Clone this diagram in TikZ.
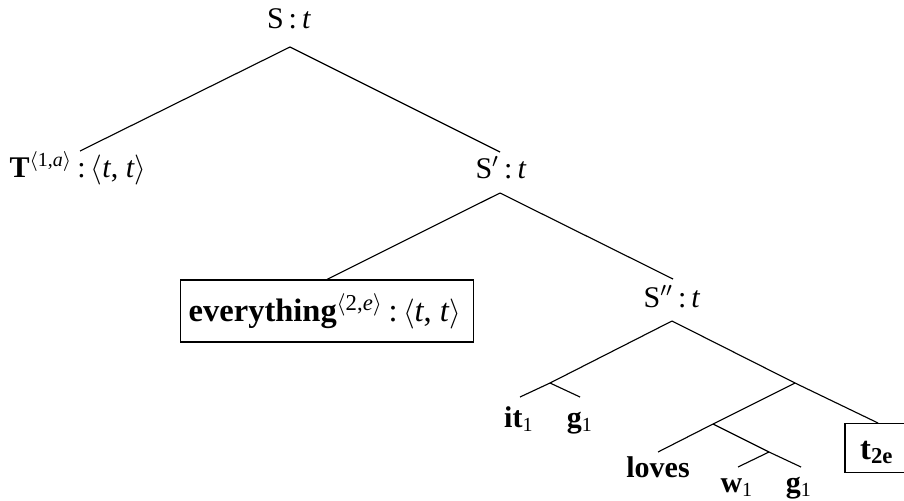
\documentclass[tikz,border=0pt]{standalone}
\usepackage{fontspec}
\setmainfont{Liberation Serif}
\newcommand{\ang}[1]{$\langle$#1$\rangle$}
\begin{document}
\begin{tikzpicture}[x=0.4pt,y=-0.4pt,
  edge/.style={line width=0.45pt},
  lab/.style={anchor=base, inner sep=0pt, font=\fontsize{12}{14}\selectfont},
  biglab/.style={anchor=base, inner sep=0pt, font=\fontsize{13}{15}\selectfont},
  boxed/.style={draw, line width=0.5pt, inner sep=0pt}]
\useasboundingbox (0,0) rectangle (904,500);

% junction / line-end points
\coordinate (S) at (290,47);
\coordinate (T) at (80,151);
\coordinate (Sp) at (500,152);
\coordinate (Spb) at (500,193);
\coordinate (Spp) at (673,279);
\coordinate (Sppb) at (672,321);
\coordinate (J1) at (550,383);
\coordinate (it) at (520,397);
\coordinate (ga) at (580,397);
\coordinate (J2) at (795,383);
\coordinate (J3) at (713,424);
\coordinate (lv) at (658,452);
\coordinate (J4) at (769,452);
\coordinate (w) at (738,467);
\coordinate (gb) at (801,467);

% labels
\node[lab] (Sl) at (289,28) {S\,:\,\textit{t}};
\node[lab] (Tl) at (78,177) {\textbf{T}\textsuperscript{\ang{1,\textit{a}}}\,:\,\ang{\textit{t}, \textit{t}}};
\node[lab] (Spl) at (501,178) {S$'$\,:\,\textit{t}};
\node[lab] (Sppl) at (672,307) {S$''$\,:\,\textit{t}};

\node[boxed, minimum width=117.2pt, minimum height=24.8pt] (ev) at (327,311) {};
\node[biglab] (evl) at (325,321) {\textbf{everything}\textsuperscript{\ang{2,\textit{e}}}\,:\,\ang{\textit{t}, \textit{t}}};

\node[boxed, minimum width=26.4pt, minimum height=19.6pt, anchor=north] (tb) at (878,423) {};
\node[biglab] (tl) at (877,459) {\textbf{t}\textsubscript{\textbf{2e}}};

\node[lab] (itl) at (519,427) {\textbf{it}\textsubscript{1}};
\node[lab] (gal) at (580,427) {\textbf{g}\textsubscript{1}};
\node[lab] (lvl) at (658,477) {\textbf{loves}};
\node[lab] (wl) at (737,492) {\textbf{w}\textsubscript{1}};
\node[lab] (gbl) at (799,492) {\textbf{g}\textsubscript{1}};

% connectors
\draw[edge] (S) -- (T);
\draw[edge] (S) -- (Sp);
\draw[edge] (Spb) -- (ev.north);
\draw[edge] (Spb) -- (Spp);
\draw[edge] (Sppb) -- (J1);
\draw[edge] (J1) -- (it);
\draw[edge] (J1) -- (ga);
\draw[edge] (Sppb) -- (J2);
\draw[edge] (J2) -- (tb.north);
\draw[edge] (J2) -- (J3);
\draw[edge] (J3) -- (lv);
\draw[edge] (J3) -- (J4);
\draw[edge] (J4) -- (w);
\draw[edge] (J4) -- (gb);
\end{tikzpicture}
\end{document}
